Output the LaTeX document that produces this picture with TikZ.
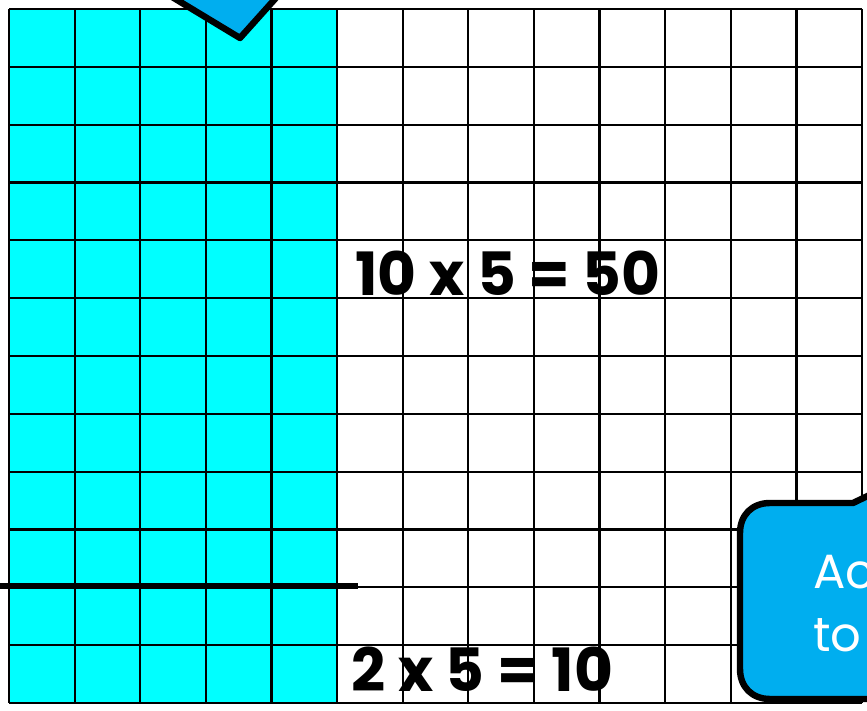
\documentclass[tikz,border=0pt]{standalone}
\usepackage{fontspec}
\setmainfont{Poppins}
\definecolor{aqua}{HTML}{00FFFF}
\definecolor{callblue}{HTML}{00AEEF}
\tikzset{
  calc/.style={font=\fontsize{51}{60}\selectfont\bfseries, inner sep=0pt, anchor=base west},
  callout/.style={fill=callblue, draw=black, line width=5.5pt, line join=round},
  calltext/.style={font=\fontsize{41}{50}\selectfont, text=white, inner sep=0pt, anchor=base west}
}
\begin{document}
\begin{tikzpicture}[x=0.03cm, y=-0.03cm]
		\useasboundingbox (0, 0) rectangle (867, 711);
		\clip (0, 0) rectangle (867, 711);
		% Raster
		\fill[aqua] (9, 9) rectangle (337, 703);
		\node[calc] (big) at (355, 296) {10 x 5 = 50};
		\node[calc] (small) at (351, 691) {2 x 5 = 10};
		\foreach \i in {0,...,13}
			\draw[line width=1.9pt] ({9 + 65.62*\i}, 9) -- ({9 + 65.62*\i}, 703);
		\foreach \j in {0,...,12}
			\draw[line width=1.9pt] (9, {9 + 57.83*\j}) -- (862, {9 + 57.83*\j});
		
		% Trennlinie
		\draw[line width=5pt] (0, 586) -- (358, 586);
		
		% Sprechblasen
		\draw[callout] (144, -20) -- (240, 38) -- (292, -20);
		\draw[callout] (880, 699) -- (770, 699) .. controls (752, 699) and (740, 687) .. (740, 669)
			-- (740, 533) .. controls (740, 515) and (752, 503) .. (770, 503)
			-- (853, 503) -- (880, 490) -- cycle;
		\node[calltext] (ac) at (813, 588) {Ac};
		\node[calltext] (to) at (813, 651) {to};
	\end{tikzpicture}
\end{document}
